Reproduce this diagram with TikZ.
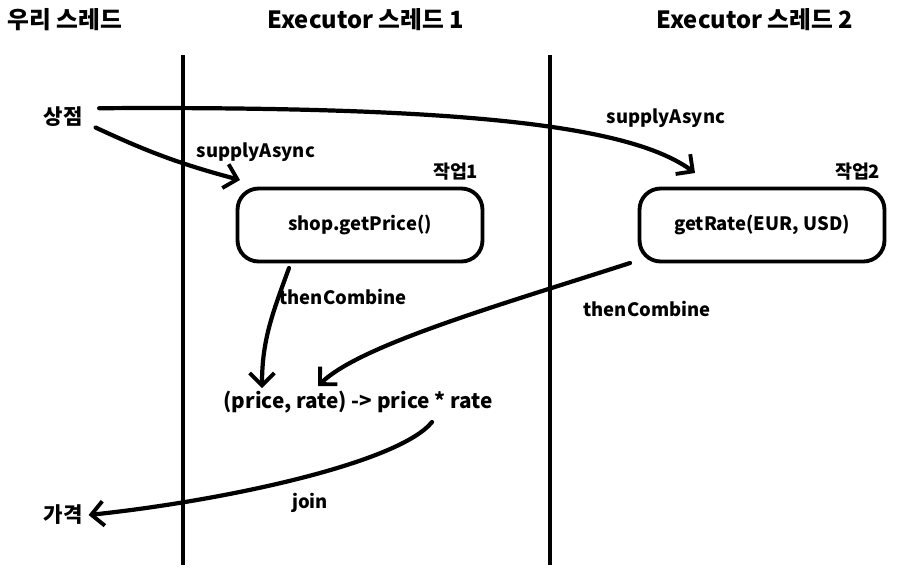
\documentclass[tikz,border=0pt]{standalone}
\usepackage{fontspec}
\setmainfont{Noto Sans CJK KR}
\usetikzlibrary{positioning, arrows.meta}

\begin{document}
\begin{tikzpicture}[
        x=0.02cm, y=-0.02cm,
        every node/.style={
            align=center,
            font=\fontsize{10.5}{12}\selectfont\bfseries
        },
        title/.style={
            font=\fontsize{13.5}{16}\selectfont\bfseries
        },
        actor/.style={
            font=\large\bfseries
        },
        task/.style={
            rectangle,
            draw,
            line width=2.2pt,
            rounded corners=12pt,
            minimum width=4.9cm,
            minimum height=1.46cm
        },
        lane/.style={
            line width=1.8pt
        },
        flow/.style={
            -{Straight Barb[length=7pt,width=14pt,line width=2.2pt]},
            line width=2.4pt,
            line cap=round
        }
    ]
    \useasboundingbox (0,0) rectangle (911,572);

    % 스레드 제목
    \node[title] (ours) at (65,20) {우리 스레드};
    \node[title] (exec1) at (366,20) {Executor 스레드 1};
    \node[title] (exec2) at (755,20) {Executor 스레드 2};

    % 스레드 경계선
    \coordinate (lane1top) at (183,55);
    \coordinate (lane1bot) at (183,565);
    \coordinate (lane2top) at (550,55);
    \coordinate (lane2bot) at (550,565);
    \draw[lane] (lane1top) -- (lane1bot);
    \draw[lane] (lane2top) -- (lane2bot);

    % 작업
    \node (shop) at (63,117) [actor] {상점};
    \node[task] (task1) at (360,225) {shop.getPrice()};
    \node[task] (task2) at (762,225) {getRate(EUR, USD)};
    \node[above left=0pt and 0pt of task1.north east] (job1) {작업1};
    \node[above left=0pt and 0pt of task2.north east] (job2) {작업2};
    \node[font=\fontsize{11.8}{14}\selectfont\bfseries] (combine) at (358,402) {(price, rate) -> price * rate};
    \node (price) at (63,515) [actor] {가격};

    % supplyAsync
    \coordinate (in1) at (240,180);
    \coordinate (in2) at (695,173);
    \draw[flow] ([xshift=4pt,yshift=-6pt]shop.east) to[out=-25,in=165] (in1);
    \draw[flow] ([xshift=6pt,yshift=5pt]shop.east) .. controls (460,106) and (630,125) .. (in2);
    \node (async1) at (256,152) {supplyAsync};
    \node (async2) at (666,118) {supplyAsync};

    % thenCombine
    \coordinate (out1) at (289,268);
    \coordinate (out2) at (630,263);
    \coordinate (into1) at (262,388);
    \coordinate (into2) at (318,386);
    \draw[flow] (out1) to[out=-110,in=90] (into1);
    \draw[flow] (out2) .. controls (500,305) and (360,345) .. (into2);
    \node (then1) at (343,297) {thenCombine};
    \node (then2) at (647,309) {thenCombine};

    % join
    \coordinate (joinstart) at (432,422);
    \draw[flow] (joinstart) .. controls (400,462) and (230,500) .. (price.east);
    \node (joinlbl) at (310,503) {join};

\end{tikzpicture}
\end{document}
